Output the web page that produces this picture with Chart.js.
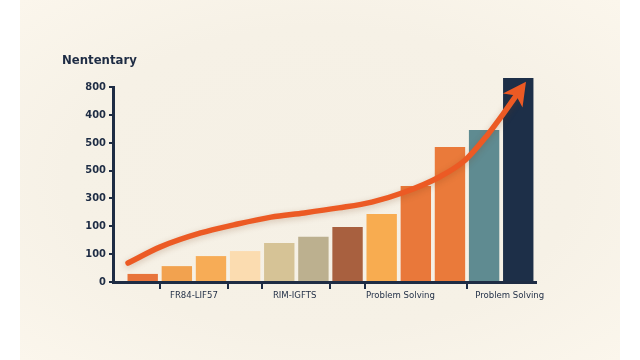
<!DOCTYPE html>
<html>
<head>
<meta charset="utf-8">
<script src="https://cdn.jsdelivr.net/npm/chart.js@4.4.1/dist/chart.umd.min.js"></script>
<style>
  html, body { margin: 0; padding: 0; background: #ffffff; }
  #panel {
    position: absolute; left: 20px; top: 0; width: 600px; height: 360px;
    background: radial-gradient(ellipse at 50% 50%, #f5f0e5 0%, #f6f1e6 60%, #fbf6ec 100%);
  }
  #wrap { position: absolute; left: 0; top: 0; width: 640px; height: 360px; }
</style>
</head>
<body>
<div id="panel"></div>
<div id="wrap"><canvas id="c" width="640" height="360"></canvas></div>
<script>
// ---- data ----
const chartTitle = "Nententary";
const barValues = [29, 57, 93, 111, 140, 162, 197, 244, 345, 485, 546, 732];
const barColors = ["#e8743b", "#f2a24f", "#f7ac56", "#fbdcb0", "#d6c396", "#bcb08f",
                   "#a8603f", "#f8ac50", "#e9783a", "#ea7a3a", "#5f8b91", "#1d2f48"];
const yTickLabels = ["0", "100", "100", "300", "500", "500", "400", "800"];
const xTickMarks = [0.5, 2.5, 3.5, 5.5, 6.5, 9.5];
const xLabelPos = [1.5, 4.45, 7.55, 10.75];
const xLabels = ["FR84-LIF57", "RIM-IGFTS", "Problem Solving", "Problem Solving"];
const curveX = [-0.43, 0.52, 1.70, 2.67, 3.76, 4.73, 5.74, 6.71, 7.68, 8.69, 9.45, 10.10, 10.54, 10.99];
const curveY = [68, 126, 176, 205, 233, 248, 266, 287, 323, 377, 438, 528, 600, 678];

const navy = "#1e2c44";
const arrowColor = "#ec5a24";

const barData = barValues.map((v, i) => ({ x: i, y: v }));
const curveData = curveX.map((x, i) => ({ x: x, y: curveY[i] }));

const titlePlugin = {
  id: 'titleText',
  afterDraw(chart) {
    const ctx = chart.ctx;
    ctx.save();
    ctx.font = "600 13px 'DejaVu Sans Condensed', 'DejaVu Sans', sans-serif";
    ctx.fillStyle = navy;
    ctx.textBaseline = "middle";
    ctx.fillText(chartTitle, 62, 61);
    ctx.restore();
  }
};

const arrowPlugin = {
  id: 'arrowHead',
  beforeDatasetDraw(chart, args) {
    if (args.index === 1) {
      chart.ctx.save();
      chart.ctx.shadowColor = "rgba(120,60,20,0.25)";
      chart.ctx.shadowBlur = 6;
      chart.ctx.shadowOffsetY = 2;
    }
  },
  afterDatasetDraw(chart, args) {
    if (args.index !== 1) return;
    chart.ctx.restore();
    const pts = chart.getDatasetMeta(1).data;
    const a = pts[pts.length - 2], b = pts[pts.length - 1];
    let dx = b.x - a.x, dy = b.y - a.y;
    const len = Math.hypot(dx, dy); dx /= len; dy /= len;
    const nx = -dy, ny = dx;
    const tipX = b.x + dx * 14, tipY = b.y + dy * 14;
    const baseX = b.x - dx * 9, baseY = b.y - dy * 9;
    const notchX = b.x - dx * 3, notchY = b.y - dy * 3;
    const ctx = chart.ctx;
    ctx.save();
    ctx.fillStyle = arrowColor;
    ctx.beginPath();
    ctx.moveTo(tipX, tipY);
    ctx.lineTo(baseX + nx * 12, baseY + ny * 12);
    ctx.lineTo(notchX, notchY);
    ctx.lineTo(baseX - nx * 12, baseY - ny * 12);
    ctx.closePath();
    ctx.fill();
    ctx.restore();
  }
};

new Chart(document.getElementById('c'), {
  data: {
    datasets: [
      {
        type: 'bar',
        data: barData,
        backgroundColor: barColors,
        borderWidth: 0,
        barPercentage: 0.89,
        categoryPercentage: 1.0,
        clip: false,
        order: 2
      },
      {
        type: 'line',
        data: curveData,
        borderColor: arrowColor,
        borderWidth: 5.5,
        borderCapStyle: 'round',
        pointRadius: 0,
        tension: 0.4,
        cubicInterpolationMode: 'monotone',
        clip: false,
        order: 1
      }
    ]
  },
  options: {
    responsive: false,
    animation: false,
    devicePixelRatio: 1,
    layout: { padding: { left: 0, right: 104, top: 87, bottom: 0 } },
    plugins: { legend: { display: false }, tooltip: { enabled: false } },
    scales: {
      x: {
        type: 'linear',
        offset: false,
        min: -0.87,
        max: 11.52,
        afterFit(scale) { scale.height = 78; },
        afterBuildTicks(scale) {
          scale.ticks = xTickMarks.concat(xLabelPos).map(v => ({ value: v }));
        },
        border: { display: true, color: navy, width: 3 },
        grid: {
          offset: false,
          drawOnChartArea: false,
          drawTicks: true,
          tickLength: 7,
          lineWidth: 2,
          color: (c) => (c.tick && xTickMarks.includes(c.tick.value)) ? navy : 'rgba(0,0,0,0)'
        },
        ticks: {
          autoSkip: false,
          maxRotation: 0,
          padding: 1,
          color: navy,
          font: { family: "'DejaVu Sans Condensed', 'DejaVu Sans', sans-serif", size: 9.5 },
          callback: (v) => { const i = xLabelPos.indexOf(v); return i >= 0 ? xLabels[i] : ""; }
        }
      },
      y: {
        type: 'linear',
        min: 0,
        max: 700,
        afterFit(scale) { scale.width = 113; },
        border: { display: true, color: navy, width: 3 },
        grid: { drawOnChartArea: false, drawTicks: true, tickLength: 4, lineWidth: 2, color: navy },
        ticks: {
          stepSize: 100,
          padding: 3,
          color: navy,
          font: { family: "'DejaVu Sans Condensed', 'DejaVu Sans', sans-serif", size: 11, weight: 'bold' },
          callback: (v) => yTickLabels[Math.round(v / 100)]
        }
      }
    }
  },
  plugins: [titlePlugin, arrowPlugin]
});
</script>
</body>
</html>
